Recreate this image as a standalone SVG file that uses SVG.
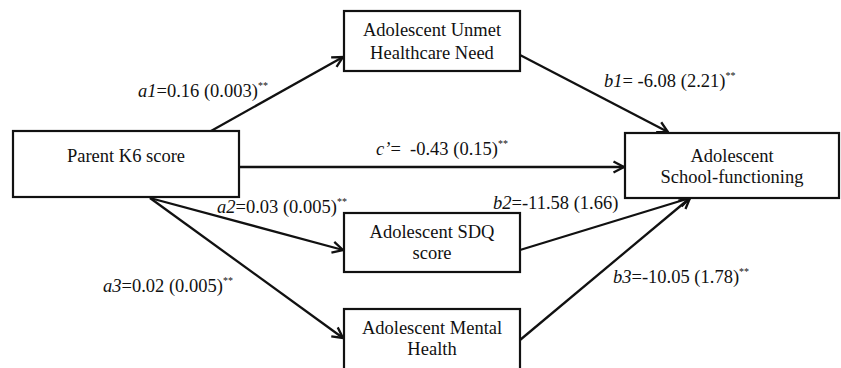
<svg xmlns="http://www.w3.org/2000/svg" width="841" height="368" viewBox="0 0 841 368">
<style>
.box{fill:#fff;stroke:#111;stroke-width:2.2}
.ln{stroke:#111;stroke-width:2.3;fill:none;marker-end:url(#arr)}
</style>
<defs>
<marker id="arr" viewBox="0 0 14 14" refX="12.5" refY="7" markerWidth="14" markerHeight="14" markerUnits="userSpaceOnUse" orient="auto">
<path d="M2,1.5 L12.5,7 L2,12.5" fill="none" stroke="#111" stroke-width="2.3"/>
</marker>
</defs>
<rect width="841" height="368" fill="#fff"/>
<g id="connectors">
<line class="ln" x1="211" y1="131" x2="343" y2="57"/>
<line class="ln" x1="239" y1="167" x2="624" y2="167"/>
<line class="ln" x1="520" y1="55" x2="668" y2="132"/>
<line class="ln" x1="150" y1="198" x2="343" y2="250"/>
<line class="ln" x1="150" y1="198" x2="343" y2="338"/>
<line class="ln" x1="520" y1="250" x2="690" y2="198"/>
<line class="ln" x1="520" y1="340" x2="690" y2="198"/>
</g>
<g font-family="Liberation Serif" font-size="18.5" fill="#111">
<g id="node-parent">
<rect class="box" x="13" y="131" width="226" height="66"/>
<text x="126" y="162" text-anchor="middle" font-family="Liberation Serif">Parent K6 score</text>
</g>
<g id="node-unmet">
<rect class="box" x="344" y="11" width="176" height="60"/>
<text x="432" y="36" text-anchor="middle" font-family="Liberation Serif">Adolescent Unmet</text>
<text x="432" y="59" text-anchor="middle" font-family="Liberation Serif">Healthcare Need</text>
</g>
<g id="node-sdq">
<rect class="box" x="344" y="213" width="176" height="59"/>
<text x="432" y="238" text-anchor="middle" font-family="Liberation Serif">Adolescent SDQ</text>
<text x="432" y="259" text-anchor="middle" font-family="Liberation Serif">score</text>
</g>
<g id="node-mental">
<rect class="box" x="344" y="309" width="176" height="62"/>
<text x="432" y="334" text-anchor="middle" font-family="Liberation Serif">Adolescent Mental</text>
<text x="432" y="355" text-anchor="middle" font-family="Liberation Serif">Health</text>
</g>
<g id="node-school">
<rect class="box" x="625" y="133" width="214" height="65"/>
<text x="732" y="162" text-anchor="middle" font-family="Liberation Serif">Adolescent</text>
<text x="732" y="183" text-anchor="middle" font-family="Liberation Serif">School-functioning</text>
</g>
<g id="labels">
<text x="138" y="97" font-family="Liberation Serif"><tspan font-style="italic">a1</tspan>=0.16 (0.003)<tspan font-size="10" dy="-8">**</tspan></text>
<text x="376" y="155" font-family="Liberation Serif"><tspan font-style="italic">c’</tspan>=&#160; -0.43 (0.15)<tspan font-size="10" dy="-8">**</tspan></text>
<text x="604" y="87" font-family="Liberation Serif"><tspan font-style="italic">b1</tspan>= -6.08 (2.21)<tspan font-size="10" dy="-8">**</tspan></text>
<text x="217" y="213" font-family="Liberation Serif"><tspan font-style="italic">a2</tspan>=0.03 (0.005)<tspan font-size="10" dy="-8">**</tspan></text>
<text x="493" y="209" font-family="Liberation Serif"><tspan font-style="italic">b2</tspan>=-11.58 (1.66)</text>
<text x="103" y="292" font-family="Liberation Serif"><tspan font-style="italic">a3</tspan>=0.02 (0.005)<tspan font-size="10" dy="-8">**</tspan></text>
<text x="613" y="283" font-family="Liberation Serif"><tspan font-style="italic">b3</tspan>=-10.05 (1.78)<tspan font-size="10" dy="-8">**</tspan></text>
</g>
</g>
</svg>
